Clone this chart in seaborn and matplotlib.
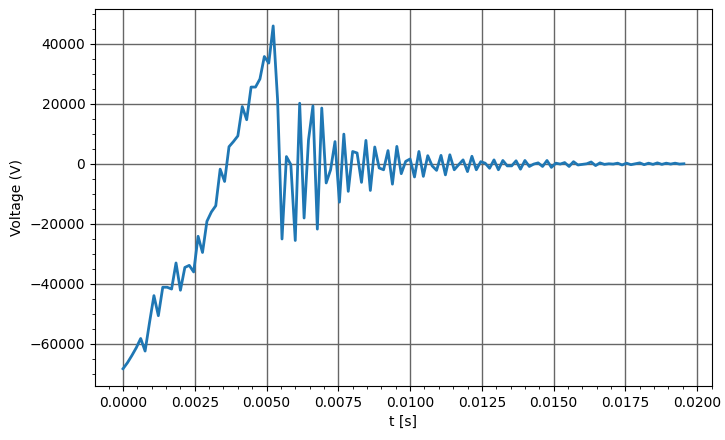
import numpy as np
import matplotlib
matplotlib.use("Agg")
import matplotlib.pyplot as plt
import seaborn as sns

# sampling: 128 samples at 6.5 kHz
sample_rate = 6500
n_samples = 128

# voltage, one value per sample
voltage = [
    -68400, -66400, -64000, -61400, -58300, -62500, -53000, -44000, -50700, -41200,
    -41200, -41800, -33100, -42200, -34600, -33900, -36100, -24200, -29600, -19200,
    -16100, -14000, -1800, -5900, 5700, 7400, 9300, 19100, 14700, 25600,
    25600, 28300, 35800, 33600, 46000, 21300, -25100, 2400, -300, -25600,
    20200, -18100, 8000, 19300, -21800, 18600, -6400, -2000, 7400, -12800,
    9900, -9200, 4100, 3600, -6200, 7800, -8900, 5600, -1400, -2000,
    4400, -6800, 5800, -3300, 800, 1600, -4400, 4100, -4200, 2700,
    -700, -2200, 2800, -3700, 3000, -2000, -300, 1300, -2600, 2500,
    -2000, 700, 200, -1500, 1300, -2000, 1100, -700, -700, 1000,
    -1800, 1100, -900, -100, 300, -900, 1100, -1200, 200, -100,
    400, -900, 700, -400, -200, 0, 600, -600, 300, -200,
    0, -100, 200, -400, 200, -300, 0, 300, -300, 200,
    -200, 300, -200, 200, -100, 200, -100, 0,
]

t = np.arange(n_samples) / sample_rate

fig = plt.figure(figsize=(7.25, 4.4), dpi=100)
ax = fig.add_axes([0.131, 0.123, 0.851, 0.857])

sns.lineplot(x=t, y=voltage, ax=ax, color="#1f77b4", linewidth=2)

ax.set_xlabel("t [s]")
ax.set_ylabel("Voltage (V)")
ax.minorticks_on()
ax.grid(which="major", color="#666666", linewidth=1)

fig.savefig("out.png", dpi=100)
